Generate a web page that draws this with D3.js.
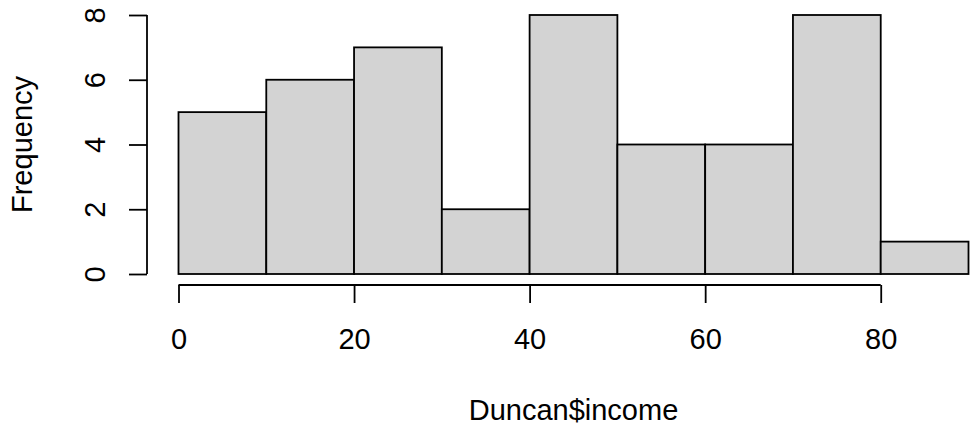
<!DOCTYPE html>
<html><head><meta charset="utf-8">
<script src="https://cdn.jsdelivr.net/npm/d3@7"></script>
<style>body{margin:0;background:#fff}svg text{font-family:"Liberation Sans",Arial,sans-serif;fill:#000}</style>
</head><body>
<svg id="c" width="970" height="425"></svg>
<script>
const binStarts = [0,10,20,30,40,50,60,70,80];
const binWidth = 10;
const counts = [5,6,7,2,8,4,4,8,1];
const xTicks = [0,20,40,60,80];
const yTicks = [0,2,4,6,8];
const xLabel = "Duncan$income";
const yLabel = "Frequency";

const svg = d3.select("#c");
const x = d3.scaleLinear().domain([0,90]).range([178.5,968.5]);
const y = d3.scaleLinear().domain([0,8]).range([274,15]);

svg.append("g").selectAll("rect").data(binStarts).join("rect")
  .attr("x", d=>x(d)).attr("width", d=>x(d+binWidth)-x(d))
  .attr("y", (d,i)=>y(counts[i])).attr("height", (d,i)=>y(0)-y(counts[i]))
  .attr("fill","#d3d3d3").attr("stroke","#000").attr("stroke-width",1.8);

const fs = 29;
const xa = svg.append("g").attr("transform","translate(0,285)")
  .call(d3.axisBottom(x).tickValues(xTicks).tickSize(18).tickFormat(d3.format("d")));
xa.select(".domain").attr("d",`M${x(0)},0H${x(80)}`);
const ya = svg.append("g").attr("transform","translate(147,0)")
  .call(d3.axisLeft(y).tickValues(yTicks).tickSize(18).tickFormat(d3.format("d")));
ya.select(".domain").attr("d",`M0,${y(0)}V${y(8)}`);
[xa,ya].forEach(a=>{
  a.attr("font-size",fs).attr("font-family","Liberation Sans, Arial, sans-serif");
  a.selectAll(".domain,.tick line").attr("stroke","#000").attr("stroke-width",1.8);
  a.selectAll("text").style("font-size",fs+"px");
});
xa.selectAll(".tick text").attr("y",64).attr("dy",null);
ya.selectAll(".tick text").attr("x",null).attr("dy",null)
  .attr("text-anchor","middle")
  .attr("transform","translate(-42,0) rotate(-90)");

svg.append("text").attr("x",(x(0)+x(90))/2).attr("y",420)
  .attr("text-anchor","middle").style("font-size",fs+"px").text(xLabel);
svg.append("text").attr("transform",`translate(32,${(y(0)+y(8))/2}) rotate(-90)`)
  .attr("text-anchor","middle").style("font-size",fs+"px").text(yLabel);
</script>
</body></html>
